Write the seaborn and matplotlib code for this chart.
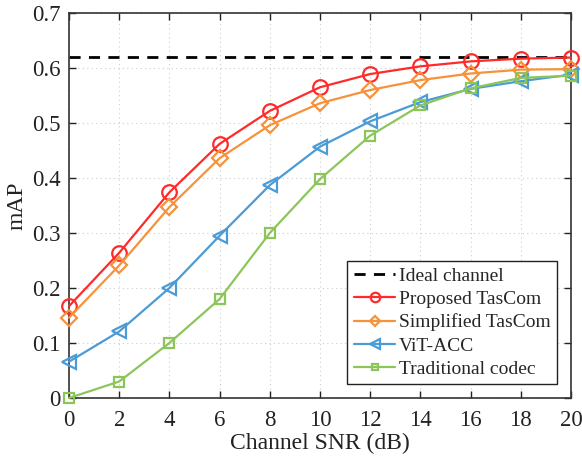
import matplotlib
matplotlib.use("Agg")
import matplotlib.pyplot as plt
import seaborn as sns
import pandas as pd
import numpy as np

snr = [0, 2, 4, 6, 8, 10, 12, 14, 16, 18, 20]
ideal_value = 0.62
proposed = [0.167, 0.264, 0.374, 0.462, 0.522, 0.565, 0.589, 0.603, 0.612, 0.617, 0.619]
simplified = [0.146, 0.241, 0.347, 0.436, 0.496, 0.536, 0.560, 0.578, 0.590, 0.597, 0.598]
vit_acc = [0.066, 0.121, 0.200, 0.295, 0.387, 0.457, 0.503, 0.538, 0.562, 0.576, 0.588]
traditional = [0.000, 0.030, 0.100, 0.180, 0.300, 0.398, 0.477, 0.532, 0.563, 0.582, 0.586]

names = ["Proposed TasCom", "Simplified TasCom", "ViT-ACC", "Traditional codec"]
series = [proposed, simplified, vit_acc, traditional]
colors = ["#FF2A2A", "#F7923A", "#4A9BD6", "#8CC65A"]
markers = ["o", "D", "<", "s"]
msizes = [10.5, 8.5, 10.5, 7.5]

sns.set_theme(style="white")
plt.rcParams["font.family"] = ["Liberation Serif", "DejaVu Serif"]
plt.rcParams["mathtext.fontset"] = "stix"

fig = plt.figure(figsize=(5.82, 4.63), dpi=100)
ax = fig.add_axes([69/582, 1-398/463, (571-69)/582, (398-13)/463])

ideal_df = pd.DataFrame({"snr": [snr[0], snr[-1]], "map": [ideal_value, ideal_value]})
sns.lineplot(data=ideal_df, x="snr", y="map", ax=ax, color="black", lw=2,
             linestyle=(0, (4, 3)), label="Ideal channel")

for name, vals, c, m, ms in zip(names, series, colors, markers, msizes):
    df = pd.DataFrame({"snr": snr, "map": vals})
    sns.lineplot(data=df, x="snr", y="map", ax=ax, color=c, lw=1.6, marker=m,
                 markersize=ms, markerfacecolor="none", markeredgecolor=c,
                 markeredgewidth=1.6, label=name, clip_on=False, zorder=3)

ax.set_xlim(0, 20)
ax.set_ylim(0, 0.7)
ax.set_xticks(np.arange(0, 21, 2))
ax.set_yticks(np.arange(0, 0.71, 0.1))
ax.set_yticklabels(["0", "0.1", "0.2", "0.3", "0.4", "0.5", "0.6", "0.7"])
ax.grid(True, linestyle=(0, (1, 3)), color="#cccccc", lw=0.8)
ax.tick_params(direction="in", length=5, width=1, labelsize=16.5, colors="#222222",
               top=True, right=True, bottom=True, left=True)
ax.tick_params(axis="x", pad=9)
ax.tick_params(axis="y", pad=6)
for s in ax.spines.values():
    s.set_color("#333333")
    s.set_linewidth(1.2)
ax.set_xlabel("Channel SNR (dB)", fontsize=17, color="#222222", labelpad=1)
ax.set_ylabel("mAP", fontsize=17, color="#222222", labelpad=3)

leg = ax.legend(loc="lower right", fontsize=14, frameon=True, fancybox=False,
                edgecolor="#222222", framealpha=1, borderpad=0.35, labelspacing=0.28,
                handlelength=2.1, handletextpad=0.2, borderaxespad=0.7, markerscale=0.65)
leg.get_frame().set_linewidth(1.0)

fig.savefig("out.png", dpi=100)
